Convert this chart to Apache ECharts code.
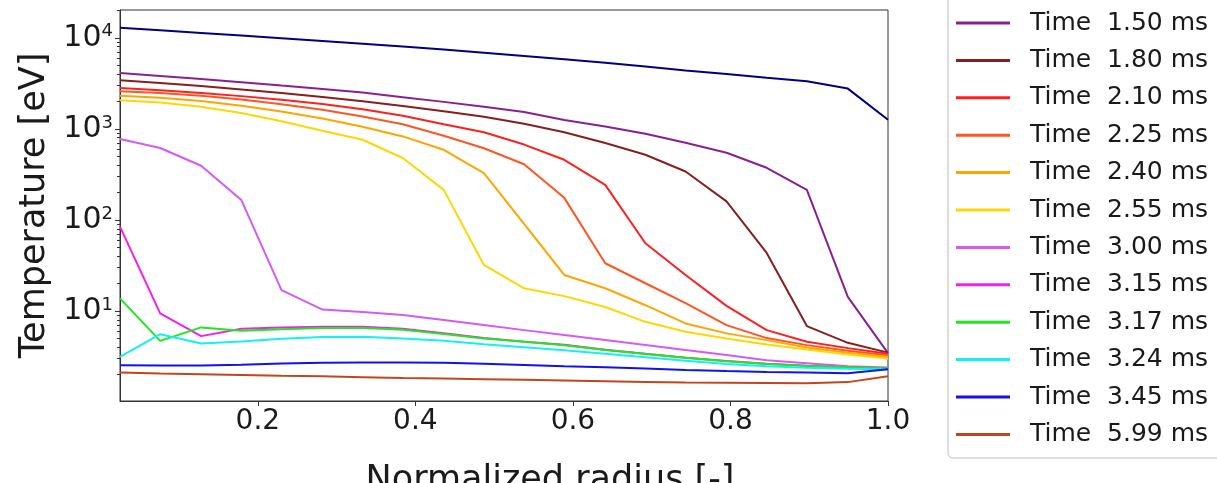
<!DOCTYPE html>
<html>
<head>
<meta charset="utf-8">
<script src="https://cdn.jsdelivr.net/npm/echarts@6/dist/echarts.min.js"></script>
<style>
  html, body { margin: 0; padding: 0; background: #ffffff; }
  #chart { width: 1217px; height: 483px; }
</style>
</head>
<body>
<div id="chart"></div>
<script>
// Normalized radius grid shared by every profile
const radius = [0.025, 0.076, 0.128, 0.179, 0.230, 0.282, 0.333, 0.384, 0.436, 0.487,
                0.538, 0.589, 0.641, 0.692, 0.743, 0.795, 0.846, 0.897, 0.949, 1.000];

// Electron temperature profiles [eV]
const teHot  = [12880, 12090, 11320, 10600, 9900, 9240, 8610, 8020, 7430, 6870,
                6320, 5800, 5310, 4830, 4390, 4000, 3640, 3330, 2770, 1260];
const te150 = [4120, 3820, 3530, 3260, 2990, 2750, 2510, 2230, 1980, 1750,
               1530, 1250, 1060, 885, 705, 547, 374, 214, 14.3, 3.45];
const te180 = [3417, 3184, 2951, 2713, 2477, 2244, 2013, 1786, 1566, 1363,
               1141, 920, 700, 520, 341, 160, 43.5, 6.84, 4.48, 3.5];
const te210 = [2818, 2652, 2477, 2290, 2091, 1875, 1643, 1394, 1127, 920,
               673, 458, 243, 55.6, 24.9, 11.4, 6.18, 4.6, 3.92, 3.4];
const te225 = [2586, 2477, 2307, 2101, 1866, 1619, 1365, 1124, 841, 613,
               409, 175, 33.5, 20.2, 12.2, 7.02, 5.05, 4.23, 3.67, 3.28];
const te240 = [2318, 2198, 2022, 1799, 1553, 1300, 1055, 827, 590, 327,
               90.6, 24.9, 17.8, 11.6, 7.32, 5.69, 4.8, 3.99, 3.48, 3.14];
const te255 = [2058, 1951, 1754, 1496, 1216, 955, 760, 479, 214, 32.1,
               17.8, 14.6, 11.1, 7.62, 5.92, 5.01, 4.3, 3.79, 3.34, 3.02];
const te300 = [774, 617, 394, 166, 17.0, 10.4, 9.75, 9.04, 7.96, 7.02,
               6.18, 5.45, 4.8, 4.23, 3.73, 3.29, 2.89, 2.68, 2.48, 2.4];
const te315 = [84.6, 9.44, 5.31, 6.41, 6.6, 6.75, 6.75, 6.4, 5.7, 5.05,
               4.62, 4.26, 3.77, 3.4, 3.08, 2.83, 2.64, 2.51, 2.42, 2.36];
const te317 = [13.8, 4.71, 6.62, 6.1, 6.3, 6.5, 6.5, 6.25, 5.6, 5.0,
               4.6, 4.22, 3.75, 3.38, 3.07, 2.82, 2.63, 2.5, 2.41, 2.35];
const te324 = [3.14, 5.58, 4.41, 4.64, 4.98, 5.2, 5.21, 5.01, 4.71, 4.33,
               4.02, 3.71, 3.4, 3.12, 2.85, 2.62, 2.48, 2.39, 2.33, 2.28];
const te345 = [2.55, 2.52, 2.53, 2.58, 2.66, 2.71, 2.73, 2.72, 2.71, 2.64,
               2.56, 2.48, 2.42, 2.34, 2.26, 2.2, 2.15, 2.12, 2.08, 2.3];
const te599 = [2.12, 2.07, 2.03, 1.99, 1.95, 1.92, 1.88, 1.84, 1.82, 1.79,
               1.76, 1.73, 1.70, 1.67, 1.64, 1.63, 1.62, 1.61, 1.66, 1.93];

// Legend entries, in drawing order
const timeLabels = ['Time  1.50 ms', 'Time  1.80 ms', 'Time  2.10 ms', 'Time  2.25 ms',
                    'Time  2.40 ms', 'Time  2.55 ms', 'Time  3.00 ms', 'Time  3.15 ms',
                    'Time  3.17 ms', 'Time  3.24 ms', 'Time  3.45 ms', 'Time  5.99 ms'];
const timeProfiles = [te150, te180, te210, te225, te240, te255, te300, te315, te317, te324, te345, te599];
const lineColors = ['#8a1f94', '#861f1f', '#ff1f1f', '#ff5522', '#ffa500', '#ffd700',
                    '#d35bf5', '#f520e8', '#1ee81e', '#15f0f0', '#1010f0', '#c1461f'];

// Axis ticks
const xTicks = [0.2, 0.4, 0.6, 0.8, 1.0];
const yMajorTicks = [10, 100, 1000, 10000];
const yMinorTicks = [];
[1, 10, 100, 1000, 10000].forEach(d => {
  for (let k = 2; k <= 9; k++) yMinorTicks.push(d * k);
});

const FONT = 'DejaVu Sans';
const INK = '#1a1a1a';
const Y_MIN = 1.03, Y_MAX = 20200;

function pairs(values) {
  return radius.map((r, i) => [r, values[i]]);
}

const series = [{
  name: 'hot',
  type: 'line',
  data: pairs(teHot),
  showSymbol: false,
  lineStyle: { color: '#000080', width: 2 },
  itemStyle: { color: '#000080' },
  z: 2
}];
timeProfiles.forEach((vals, i) => {
  series.push({
    name: timeLabels[i],
    type: 'line',
    data: pairs(vals),
    showSymbol: false,
    lineStyle: { color: lineColors[i], width: 2 },
    itemStyle: { color: lineColors[i] },
    z: 2 + i
  });
});

const chart = echarts.init(document.getElementById('chart'), null, { renderer: 'canvas' });
chart.setOption({
  animation: false,
  backgroundColor: '#ffffff',
  grid: {
    left: 120, top: 10, width: 768, height: 391,
    outerBoundsMode: 'none',
    containLabel: false,
    show: true, borderColor: '#333333', borderWidth: 1, backgroundColor: 'transparent'
  },
  xAxis: {
    type: 'value',
    min: 0.025,
    max: 1.0,
    splitLine: { show: false },
    axisLine: { lineStyle: { color: '#333333', width: 1 } },
    axisTick: { customValues: xTicks, length: 5, lineStyle: { color: '#333333' } },
    axisLabel: {
      customValues: xTicks,
      formatter: v => v.toFixed(1),
      fontFamily: FONT, fontSize: 28, color: INK, margin: 7
    },
    name: 'Normalized radius [-]',
    nameLocation: 'middle',
    nameGap: 62,
    nameTextStyle: { fontFamily: FONT, fontSize: 35, color: INK, padding: [0, 0, 0, 92] }
  },
  yAxis: [{
    type: 'log',
    logBase: 10,
    min: Y_MIN,
    max: Y_MAX,
    splitLine: { show: false },
    axisLine: { show: true, lineStyle: { color: '#333333', width: 1 } },
    axisTick: { customValues: yMajorTicks, length: 5, lineStyle: { color: '#333333' } },
    axisLabel: {
      customValues: yMajorTicks,
      formatter: v => '{b|10}{s|' + Math.round(Math.log10(v)) + '}',
      margin: 7,
      rich: {
        b: { fontFamily: FONT, fontSize: 30, color: INK },
        s: { fontFamily: FONT, fontSize: 18, color: INK, verticalAlign: 'top' }
      }
    },
    name: 'Temperature [eV]',
    nameLocation: 'middle',
    nameGap: 67,
    nameTextStyle: { fontFamily: FONT, fontSize: 35, color: INK }
  }, {
    type: 'log',
    logBase: 10,
    min: Y_MIN,
    max: Y_MAX,
    position: 'left',
    splitLine: { show: false },
    axisLine: { show: false },
    axisLabel: { show: false },
    axisTick: { customValues: yMinorTicks, length: 3, lineStyle: { color: '#333333' } }
  }],
  legend: {
    data: timeLabels,
    orient: 'vertical',
    left: 956,
    top: 8,
    padding: 0,
    itemGap: 7.4,
    itemWidth: 54,
    itemHeight: 3,
    icon: 'rect',
    textStyle: { fontFamily: FONT, fontSize: 25, color: INK, lineHeight: 30, padding: [0, 0, 0, 15] }
  },
  graphic: [{
    type: 'rect',
    z: -1,
    shape: { x: 948, y: -20, width: 300, height: 478, r: 5 },
    style: { fill: '#ffffff', stroke: '#d4d4d4', lineWidth: 1.5 }
  }],
  series: series
});
</script>
</body>
</html>
